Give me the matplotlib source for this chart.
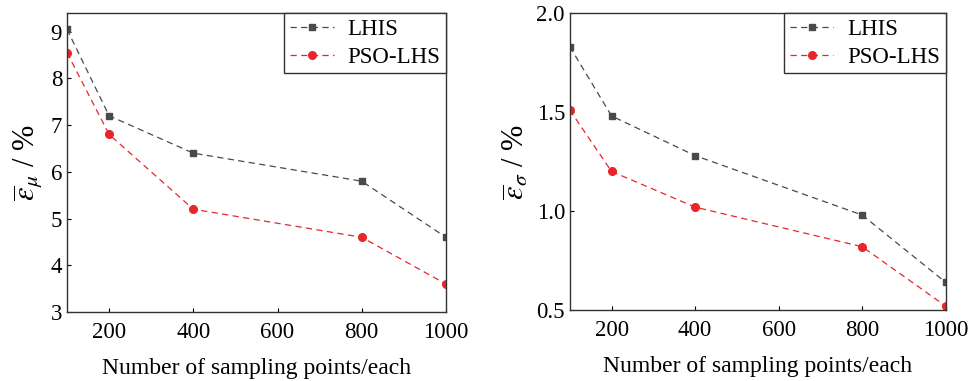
import matplotlib.pyplot as plt

plt.rcParams['font.family'] = 'Liberation Serif'
plt.rcParams['mathtext.fontset'] = 'stix'

n_points = [100, 200, 400, 800, 1000]

mu_lhis = [9.05, 7.2, 6.4, 5.8, 4.6]
mu_pso = [8.55, 6.8, 5.2, 4.6, 3.6]

sigma_lhis = [1.83, 1.48, 1.28, 0.98, 0.64]
sigma_pso = [1.51, 1.2, 1.02, 0.82, 0.52]

gray = '#4a4a4a'
red = '#e8262a'

fig = plt.figure(figsize=(9.74, 3.81), dpi=100)
ax1 = fig.add_axes([0.0688, 0.181, 0.389, 0.785])
ax2 = fig.add_axes([0.585, 0.186, 0.386, 0.780])


def draw(ax, lhis, pso, ylim, yticks, ylabel):
    ax.plot(n_points, lhis, '--s', color=gray, lw=0.9, ms=5, dashes=(5, 3.5), label='LHIS')
    ax.plot(n_points, pso, '--o', color=red, lw=0.9, ms=5.5, dashes=(5, 3.5), label='PSO-LHS')
    ax.set_xlim(100, 1000)
    ax.set_ylim(*ylim)
    ax.set_xticks([200, 400, 600, 800, 1000])
    ax.set_yticks(yticks)
    ax.tick_params(direction='in', labelsize=16.5, length=3)
    ax.tick_params(axis='x', pad=7)
    for s in ax.spines.values():
        s.set_linewidth(1.0)
        s.set_color('#333333')
    ax.set_xlabel('Number of sampling points/each', fontsize=17, labelpad=11)
    ax.set_ylabel(ylabel, fontsize=22, labelpad=4)
    leg = ax.legend(loc='upper right', fontsize=16.5, fancybox=False,
                    edgecolor='#333333', framealpha=1, borderaxespad=0,
                    handlelength=1.9, handletextpad=0.6, borderpad=0.25,
                    labelspacing=0.3)
    leg.get_frame().set_linewidth(1.0)


draw(ax1, mu_lhis, mu_pso, (3, 9.4), [3, 4, 5, 6, 7, 8, 9],
     r'$\overline{\varepsilon}_{\mu}$ / %')
draw(ax2, sigma_lhis, sigma_pso, (0.5, 2.0), [0.5, 1.0, 1.5, 2.0],
     r'$\overline{\varepsilon}_{\sigma}$ / %')
ax2.set_yticklabels(['0.5', '1.0', '1.5', '2.0'])

fig.savefig('out.png', dpi=100)
